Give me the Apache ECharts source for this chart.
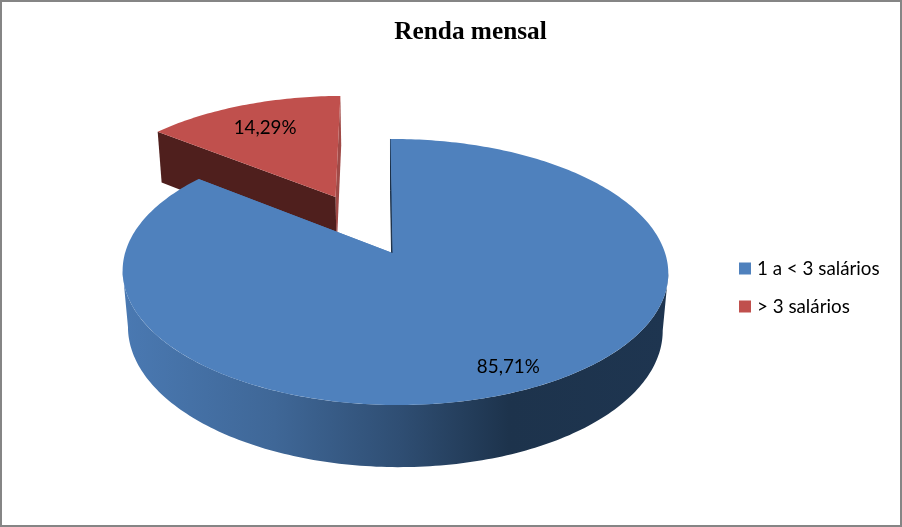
<!DOCTYPE html>
<html>
<head>
<meta charset="utf-8">
<style>html,body{margin:0;padding:0;background:#fff}#c{width:902px;height:527px}</style>
<script src="https://cdn.jsdelivr.net/npm/echarts@6/dist/echarts.min.js"></script>
</head>
<body>
<div id="c"></div>
<script>
const titleText = 'Renda mensal';
const categories = ['1 a < 3 salários', '> 3 salários'];
const values = [85.71, 14.29];

// Style and projection constants (perspective view of a unit disc)
const topColors = ['#4f81bd', '#c0504d'];
const startFaceColors = ['#1c3048', '#4f1f1d'];
const endFaceColors = ['#4f81bd', '#a04a47'];
const explode = [0, 0.51];
const labelRadius = [0.86, 0.735];
const cam = {cx: 392.5, cy: 253, a: 130.3, b: 270, k: 0.1429, s: 2.3, d: 57.5, m: 0.02, q: 0.0095};
const FONT = 'Lato';

function project(X, Y, Z) {
  const w = 1 - cam.k * Y - cam.q * X + cam.m * Z;
  return [cam.cx + (cam.b * X + cam.s * Y) / w, cam.cy + (cam.a * Y + cam.d * Z) / w];
}
// silhouette angles of the disc: where its outline is widest on each side
function silhouette() {
  let lo = 0, hi = 0, minX = Infinity, maxX = -Infinity;
  for (let t = 0; t < 360; t += 0.5) {
    const r = t * Math.PI / 180;
    const x = project(Math.sin(r), -Math.cos(r), 0)[0];
    if (x < minX) { minX = x; lo = t; }
    if (x > maxX) { maxX = x; hi = t; }
  }
  return [hi, lo];
}
const frontRange = silhouette();
const total = values.reduce((p, v) => p + v, 0);
function sliceRange(i) {
  let start = 0;
  for (let j = 0; j < i; j++) start += values[j];
  return [start / total * 360, (start + values[i]) / total * 360];
}
function renderSlice(i, api) {
  const value = api.value(0);
  const [t0, t1] = sliceRange(i);
  const mid = (t0 + t1) / 2 * Math.PI / 180;
  const ox = explode[i] * Math.sin(mid), oy = -explode[i] * Math.cos(mid);
  const pt = (deg, r, Z) => {
    const t = deg * Math.PI / 180;
    return project(ox + r * Math.sin(t), oy - r * Math.cos(t), Z);
  };
  const arc = (from, to, Z) => {
    const out = [], n = Math.max(2, Math.ceil(Math.abs(to - from)));
    for (let j = 0; j <= n; j++) out.push(pt(from + (to - from) * j / n, 1, Z));
    return out;
  };
  const children = [];
  // outer wall (only the part facing the viewer)
  const w0 = Math.max(t0, frontRange[0]), w1 = Math.min(t1, frontRange[1]);
  if (w1 > w0) {
    children.push({
      type: 'polygon',
      shape: {points: arc(w0, w1, 0).concat(arc(w1, w0, 1))},
      style: {
        fill: new echarts.graphic.LinearGradient(122, 0, 667, 0, [
          {offset: 0, color: '#4a79b2'},
          {offset: 0.28, color: '#3f6797'},
          {offset: 0.51, color: '#2f4e73'},
          {offset: 0.71, color: '#1d334c'},
          {offset: 1, color: '#1e3550'}
        ], true)
      }
    });
  }
  // cut faces
  const face = (deg, color, stroke) => ({
    type: 'polygon',
    shape: {points: [pt(deg, 0, 0), pt(deg, 1, 0), pt(deg, 1, 1), pt(deg, 0, 1)]},
    style: stroke ? {fill: color, stroke: color, lineWidth: 1} : {fill: color}
  });
  children.push(face(t1, endFaceColors[i], false));
  children.push(face(t0, startFaceColors[i], i === 0));
  // top face
  children.push({
    type: 'polygon',
    shape: {points: [pt(0, 0, 0)].concat(arc(t0, t1, 0))},
    style: {fill: topColors[i]}
  });
  // value label
  const lp = pt((t0 + t1) / 2, labelRadius[i], 0);
  children.push({
    type: 'text',
    style: {
      text: value.toFixed(2).replace('.', ',') + '%',
      x: lp[0], y: lp[1], textAlign: 'center', textVerticalAlign: 'middle',
      fontFamily: FONT, fontSize: 18.8, fill: '#000'
    }
  });
  return {type: 'group', children};
}

const chart = echarts.init(document.getElementById('c'), null, {renderer: 'canvas'});
chart.setOption({
  animation: false,
  backgroundColor: '#fff',
  title: {
    text: titleText, left: 465.5, top: 15, textAlign: 'center',
    textStyle: {fontFamily: 'Liberation Serif', fontWeight: 'bold', fontSize: 25.3, color: '#000'}
  },
  legend: {
    orient: 'vertical', left: 734, top: 254, itemWidth: 12, itemHeight: 12, itemGap: 19,
    icon: 'rect', selectedMode: false, data: categories,
    textStyle: {fontFamily: FONT, fontSize: 18.8, color: '#000', padding: [0, 0, 0, 1]}
  },
  graphic: [{
    type: 'rect', silent: true, z: 100,
    shape: {x: 1, y: 1, width: 900, height: 525},
    style: {fill: 'none', stroke: '#858585', lineWidth: 2}
  }],
  series: categories.map((name, i) => ({
    type: 'custom', name, coordinateSystem: 'none',
    z: i === 0 ? 3 : 2,
    itemStyle: {color: topColors[i]},
    data: [values[i]],
    renderItem: (params, api) => renderSlice(i, api)
  }))
});
</script>
</body>
</html>
